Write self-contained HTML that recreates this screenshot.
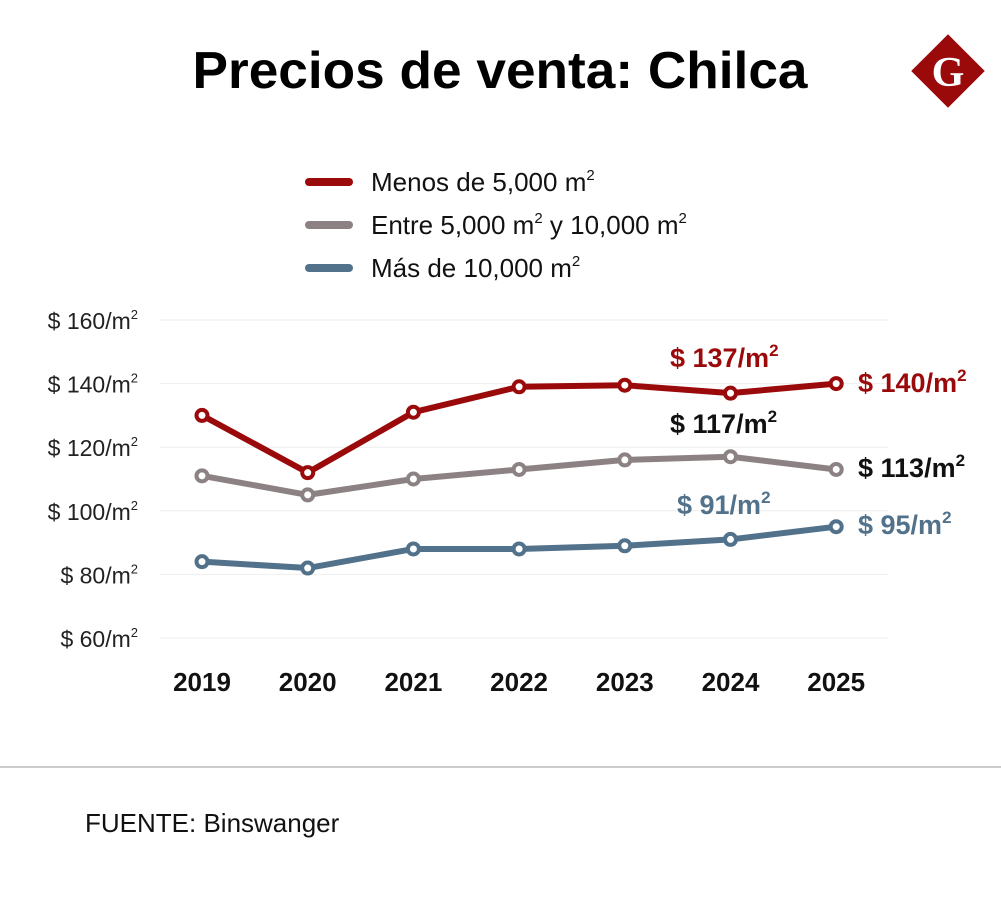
<!DOCTYPE html>
<html><head><meta charset="utf-8"><style>
body{margin:0;background:#fff;width:1001px;height:902px;overflow:hidden;font-family:"Liberation Sans",sans-serif}
svg{display:block}
</style></head><body>
<svg width="1001" height="902">
<text x="500" y="88" text-anchor="middle" font-size="52" font-weight="bold" font-family="Liberation Sans" fill="#000" textLength="615" lengthAdjust="spacingAndGlyphs">Precios de venta: Chilca</text>
<g>
<rect x="922" y="45" width="52" height="52" fill="#9b0a0a" transform="rotate(45 948 71)"/>
<text x="948" y="86" text-anchor="middle" font-size="42" font-weight="bold" font-family="Liberation Serif" fill="#fff">G</text>
</g>
<g id="legend" font-size="26" fill="#111"></g>
<g id="grid"></g><g id="series"></g><g id="labels"></g>
<line x1="0" y1="767" x2="1001" y2="767" stroke="#bbb" stroke-width="1.5"/>
<text x="85" y="832" font-size="26" fill="#111">FUENTE: Binswanger</text>
</svg>
<script>
const years=["2019","2020","2021","2022","2023","2024","2025"];
const small=[130,112,131,139,139.5,137,140];
const mid=[111,105,110,113,116,117,113];
const large=[84,82,88,88,89,91,95];
const yTicks=[160,140,120,100,80,60];
const NS="http://www.w3.org/2000/svg";
const X=i=>202+i*105.7;
const Y=v=>320+(160-v)*3.18;
function mk(tag,attrs,parent,text){const e=document.createElementNS(NS,tag);for(const k in attrs)e.setAttribute(k,attrs[k]);if(text!==undefined)e.innerHTML=text;parent.appendChild(e);return e;}
const grid=document.getElementById('grid');
yTicks.forEach(t=>{
 const l=mk('line',{x1:160,x2:888,y1:Y(t),y2:Y(t),stroke:'#eee','stroke-width':1},grid);
 
 
 const tx=mk('text',{x:138,y:Y(t)+9,'text-anchor':'end','font-size':23,fill:'#222'},grid,'$ '+t+'/m<tspan font-size="13" dy="-10">2</tspan>');
 
 
});
years.forEach((y,i)=>{
 const tx=mk('text',{x:X(i),y:691,'text-anchor':'middle','font-size':26,'font-weight':'bold',fill:'#111'},grid,y);
 
 
});
const ser=document.getElementById('series');
[[small,'#9b0a0a'],[mid,'#8c8283'],[large,'#52718a']].forEach(([d,c])=>{
 const p=mk('polyline',{points:d.map((v,i)=>X(i)+','+Y(v)).join(' '),fill:'none',stroke:c,'stroke-width':6,'stroke-linejoin':'round'},ser);
 
 
 d.forEach((v,i)=>{
  const m=mk('circle',{cx:X(i),cy:Y(v),r:5.5,fill:'#fff',stroke:c,'stroke-width':4},ser);
  
  
 });
});
const leg=document.getElementById('legend');
[['#9b0a0a','Menos de 5,000 m<tspan font-size="15" dy="-11">2</tspan>'],
 ['#8c8283','Entre 5,000 m<tspan font-size="15" dy="-11">2</tspan><tspan dy="11"> y 10,000 m</tspan><tspan font-size="15" dy="-11">2</tspan>'],
 ['#52718a','Más de 10,000 m<tspan font-size="15" dy="-11">2</tspan>']].forEach(([c,t],i)=>{
 const y=182+i*43;
 const l=mk('line',{x1:309,x2:349,y1:y,y2:y,stroke:c,'stroke-width':8,'stroke-linecap':'round'},leg);
 
 
 const tx=mk('text',{x:371,y:y+9},leg,t);
 
 
});
const lab=document.getElementById('labels');
const sup='/m<tspan font-size="17" dy="-11">2</tspan>';
[[670,367,'#9b0a0a','$ '+small[5]],[670,433,'#111','$ '+mid[5]],[677,514,'#52718a','$ '+large[5]],
 [858,392,'#9b0a0a','$ '+small[6]],[858,477,'#111','$ '+mid[6]],[858,534,'#52718a','$ '+large[6]]].forEach(([x,y,c,t])=>{
 const tx=mk('text',{x:x,y:y,fill:c,'font-size':27,'font-weight':'bold'},lab,t+sup);
 
 
});
</script>
</body></html>
